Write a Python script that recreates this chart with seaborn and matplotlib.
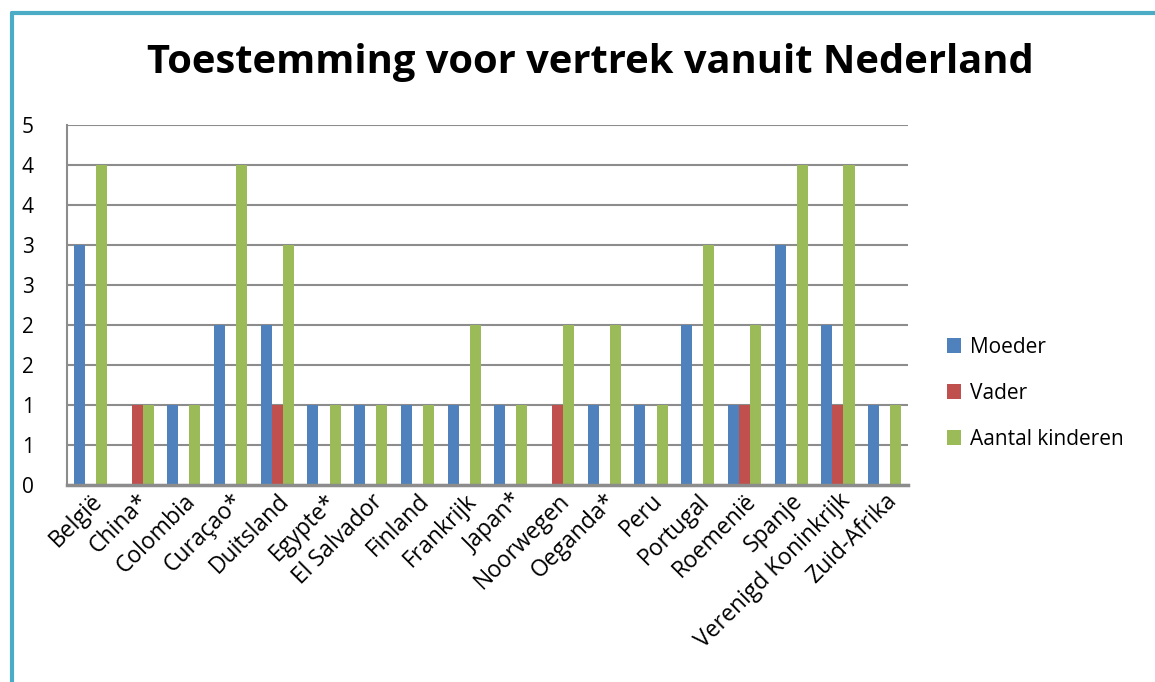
import numpy as np
import pandas as pd
import matplotlib
matplotlib.use("Agg")
import matplotlib.pyplot as plt
import seaborn as sns
from matplotlib.ticker import FuncFormatter
from matplotlib.lines import Line2D

landen = ['België', 'China*', 'Colombia', 'Curaçao*', 'Duitsland', 'Egypte*', 'El Salvador',
          'Finland', 'Frankrijk', 'Japan*', 'Noorwegen', 'Oeganda*', 'Peru', 'Portugal',
          'Roemenië', 'Spanje', 'Verenigd Koninkrijk', 'Zuid-Afrika']
moeder = [3, 0, 1, 2, 2, 1, 1, 1, 1, 1, 0, 1, 1, 2, 1, 3, 2, 1]
vader = [0, 1, 0, 0, 1, 0, 0, 0, 0, 0, 1, 0, 0, 0, 1, 0, 1, 0]
kinderen = [4, 1, 1, 4, 3, 1, 1, 1, 2, 1, 2, 2, 1, 3, 2, 4, 4, 1]

series = ['Moeder', 'Vader', 'Aantal kinderen']
kleuren = ['#4F81BD', '#C0504D', '#9BBB59']

df = pd.DataFrame({'Land': landen, 'Moeder': moeder, 'Vader': vader, 'Aantal kinderen': kinderen})
long = df.melt(id_vars='Land', var_name='Reeks', value_name='Aantal')

sns.set_style('white')
plt.rcParams['font.family'] = ['Open Sans', 'DejaVu Sans']
plt.rcParams['text.color'] = 'black'
plt.rcParams['xtick.color'] = 'black'
plt.rcParams['ytick.color'] = 'black'

fig = plt.figure(figsize=(11.55, 6.82), dpi=100)
ax = fig.add_axes([67 / 1155, 1 - 485 / 682, (908 - 67) / 1155, 360 / 682])

sns.barplot(data=long, x='Land', y='Aantal', hue='Reeks', hue_order=series,
            palette=kleuren, width=0.71, saturation=1, linewidth=0, ax=ax, legend=True)

ax.set_ylim(0, 4.5)
ax.set_xlim(-0.5, len(landen) - 0.5)
ax.set_yticks(np.arange(0, 4.51, 0.5))
ax.yaxis.set_major_formatter(FuncFormatter(lambda v, p: f'{int(np.floor(v + 0.5))}'))
ax.yaxis.grid(True, color='#8C8C8C', linewidth=1.5)
ax.set_axisbelow(True)
ax.tick_params(axis='y', labelsize=15, pad=24, length=0)
ax.tick_params(axis='x', labelsize=16.5, pad=3, length=0)
plt.setp(ax.get_xticklabels(), rotation=45, ha='right', rotation_mode='anchor')
ax.set_xlabel('')
ax.set_ylabel('')
for s in ['top', 'right']:
    ax.spines[s].set_visible(False)
ax.spines['left'].set_color('#8C8C8C')
ax.spines['left'].set_linewidth(1.5)
ax.spines['bottom'].set_color('#8C8C8C')
ax.spines['bottom'].set_linewidth(2.5)

handles, labels = ax.get_legend_handles_labels()
ax.legend(handles, labels, loc='center left', bbox_to_anchor=(928 / 1155, 1 - 393 / 682),
          bbox_transform=fig.transFigure, frameon=False, fontsize=15,
          handlelength=0.7, handleheight=0.7, handletextpad=0.4, labelspacing=1.2)

fig.text(590 / 1155, 1 - 62 / 682, 'Toestemming voor vertrek vanuit Nederland',
         ha='center', va='center', fontsize=28.7, fontweight='bold')

# rand van het grafiekgebied
fig.add_artist(Line2D([12 / 1155, 12 / 1155], [0, 1 - 13 / 682], transform=fig.transFigure,
                      color='#4BACC6', linewidth=3))
fig.add_artist(Line2D([12 / 1155, 1], [1 - 13 / 682, 1 - 13 / 682], transform=fig.transFigure,
                      color='#4BACC6', linewidth=3))

fig.savefig('out.png', dpi=100, facecolor='white')
